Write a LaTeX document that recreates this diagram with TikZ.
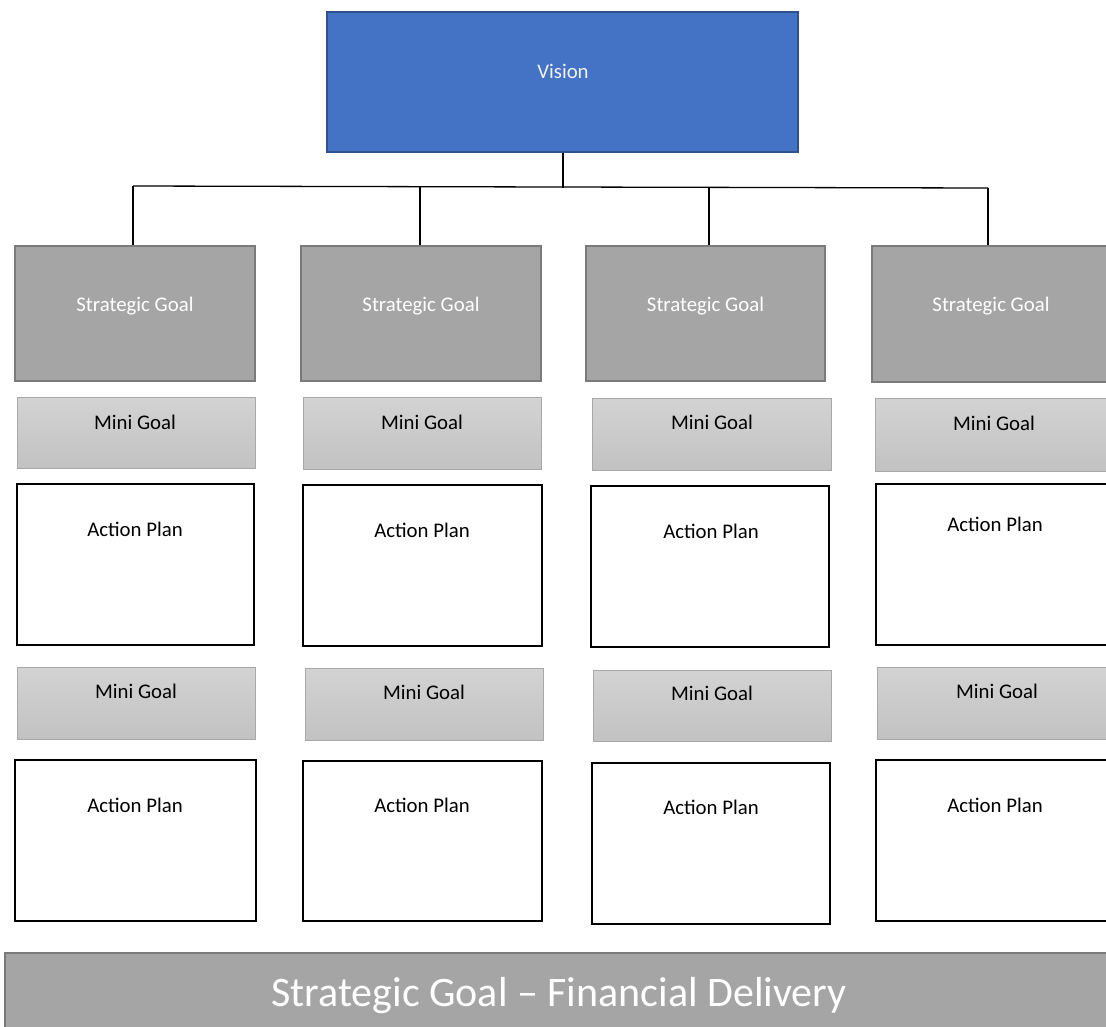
\documentclass[tikz,border=0pt]{standalone}
\usepackage{fontspec}
\setmainfont{Carlito}
\begin{document}
\begin{tikzpicture}[x=1pt,y=-1pt,
  vis/.style={draw=visborder,fill=visfill,line width=1.5pt,inner sep=0pt},
  sgbox/.style={draw=sgborder,fill=sgfill,line width=2pt,inner sep=0pt},
  mgbox/.style={draw=mgborder,top color=mgtop,bottom color=mgbot,line width=1pt,inner sep=0pt},
  apbox/.style={draw=black,fill=white,line width=2.5pt,inner sep=0pt},
  wtxt/.style={anchor=base,inner sep=0pt,text=white,font=\fontsize{20.8}{24}\selectfont},
  btxt/.style={anchor=base,inner sep=0pt,text=black,font=\fontsize{20.8}{24}\selectfont},
  conn/.style={draw=black,line width=1.3pt}]
\definecolor{visfill}{HTML}{4472C4}
\definecolor{visborder}{HTML}{2F528F}
\definecolor{sgfill}{HTML}{A5A5A5}
\definecolor{sgborder}{HTML}{7A7A7A}
\definecolor{mgtop}{HTML}{D3D3D3}
\definecolor{mgbot}{HTML}{C2C2C2}
\definecolor{mgborder}{HTML}{A8A8A8}
\clip (0,0) rectangle (1106,1026);
\fill[white] (0,0) rectangle (1106,1026);

% Vision
\node[vis,minimum width=471,minimum height=140] (vision) at (562.5,82) {};
\node[wtxt,text=white!95!black] (visiont) at (563,78) {Vision};

% Strategic goals
\node[sgbox,minimum width=240,minimum height=135] (sg1) at (135,313.5) {};
\node[sgbox,minimum width=240,minimum height=135] (sg2) at (421,313.5) {};
\node[sgbox,minimum width=239,minimum height=135] (sg3) at (705.5,313.5) {};
\node[sgbox,minimum width=240,minimum height=136] (sg4) at (992,314) {};
\node[wtxt] (sg1t) at (135,311) {Strategic Goal};
\node[wtxt] (sg2t) at (421,311) {Strategic Goal};
\node[wtxt] (sg3t) at (705.5,311) {Strategic Goal};
\node[wtxt] (sg4t) at (991,311) {Strategic Goal};

% Mini goals row 1
\node[mgbox,minimum width=238,minimum height=71] (mg11) at (136,432.5) {};
\node[mgbox,minimum width=238,minimum height=72] (mg21) at (422,433) {};
\node[mgbox,minimum width=239,minimum height=72] (mg31) at (711.5,434) {};
\node[mgbox,minimum width=240,minimum height=73] (mg41) at (995,434.5) {};
\node[btxt] (mg11t) at (135,429) {Mini Goal};
\node[btxt] (mg21t) at (422,429) {Mini Goal};
\node[btxt] (mg31t) at (712,429) {Mini Goal};
\node[btxt] (mg41t) at (994,430) {Mini Goal};

% Action plans row 1
\node[apbox,minimum width=237,minimum height=161] (ap11) at (135.5,564.5) {};
\node[apbox,minimum width=239,minimum height=161] (ap21) at (422.5,565.5) {};
\node[apbox,minimum width=238,minimum height=161] (ap31) at (710,566.5) {};
\node[apbox,minimum width=240,minimum height=161] (ap41) at (996,564.5) {};
\node[btxt] (ap11t) at (135,536) {Action Plan};
\node[btxt] (ap21t) at (422,537) {Action Plan};
\node[btxt] (ap31t) at (711,538) {Action Plan};
\node[btxt] (ap41t) at (995,531) {Action Plan};

% Mini goals row 2
\node[mgbox,minimum width=238,minimum height=72] (mg12) at (136,703) {};
\node[mgbox,minimum width=238,minimum height=72] (mg22) at (424,704) {};
\node[mgbox,minimum width=238,minimum height=71] (mg32) at (712,705.5) {};
\node[mgbox,minimum width=240,minimum height=72] (mg42) at (997,703) {};
\node[btxt] (mg12t) at (136,698) {Mini Goal};
\node[btxt] (mg22t) at (424,699) {Mini Goal};
\node[btxt] (mg32t) at (712,700) {Mini Goal};
\node[btxt] (mg42t) at (997,698) {Mini Goal};

% Action plans row 2
\node[apbox,minimum width=241,minimum height=161] (ap12) at (135.5,840.5) {};
\node[apbox,minimum width=239,minimum height=160] (ap22) at (422.5,841) {};
\node[apbox,minimum width=238,minimum height=161] (ap32) at (711,843.5) {};
\node[apbox,minimum width=240,minimum height=161] (ap42) at (996,840.5) {};
\node[btxt] (ap12t) at (135,812) {Action Plan};
\node[btxt] (ap22t) at (422,812) {Action Plan};
\node[btxt] (ap32t) at (711,814) {Action Plan};
\node[btxt] (ap42t) at (995,812) {Action Plan};

% Bottom bar
\node[sgbox,minimum width=1106,minimum height=78] (bar) at (558,992) {};
\node[wtxt,font=\fontsize{42}{50}\selectfont] (bart) at (559,1006) {Strategic Goal – Financial Delivery};

% Connectors
\coordinate (trunk) at (563,187.5);
\coordinate (h1) at (133,186);
\coordinate (h2) at (420,186.5);
\coordinate (h3) at (709,187.5);
\coordinate (h4) at (988,188);
\draw[conn] (vision.south -| trunk) -- (trunk);
\draw[conn] (h1) -- (h4);
\draw[conn] (h1) -- (h1 |- sg1.north);
\draw[conn] (h2) -- (h2 |- sg2.north);
\draw[conn] (h3) -- (h3 |- sg3.north);
\draw[conn] (h4) -- (h4 |- sg4.north);
\end{tikzpicture}
\end{document}
